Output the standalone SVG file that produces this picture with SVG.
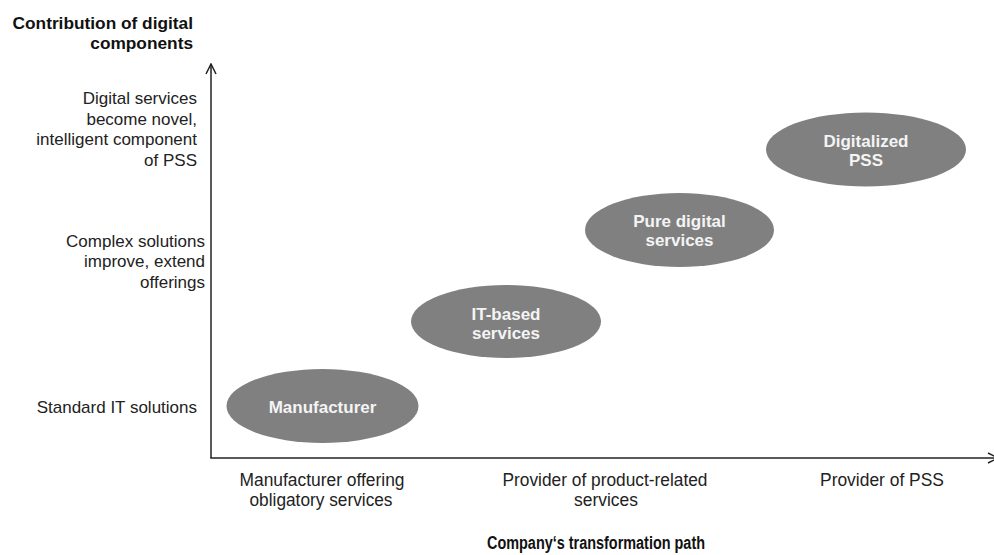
<svg xmlns="http://www.w3.org/2000/svg" width="994" height="555" viewBox="0 0 994 555">
  <style>
    .bg { fill: #ffffff; }
    .axis { stroke: #222222; stroke-width: 1.5; fill: none; }
    .blob { fill: #808080; }
    .node-label { font-family: "Liberation Sans", Arial, sans-serif; font-size: 17px; font-weight: bold; fill: #f4f4f4; text-anchor: middle; }
    .axis-title { font-family: "Liberation Sans", Arial, sans-serif; font-size: 17.3px; font-weight: bold; fill: #111111; }
    .path-title { font-family: "Liberation Sans", Arial, sans-serif; font-size: 17.5px; font-weight: bold; fill: #111111; text-anchor: middle; }
    .level { font-family: "Liberation Sans", Arial, sans-serif; font-size: 17px; fill: #222222; text-anchor: end; }
    .stage { font-family: "Liberation Sans", Arial, sans-serif; font-size: 17.5px; fill: #222222; text-anchor: middle; }
  </style>
  <defs>
    <marker id="open-arrow" viewBox="0 0 12 12" refX="11" refY="6" markerWidth="12" markerHeight="12" markerUnits="userSpaceOnUse" orient="auto">
      <path d="M1,1 L11,6 L1,11" fill="none" stroke="#222222" stroke-width="1.5"/>
    </marker>
  </defs>

  <rect class="bg" x="0" y="0" width="994" height="555"/>

  <!-- axes -->
  <g id="connectors">
    <line class="axis" x1="211" y1="458" x2="211" y2="64" marker-end="url(#open-arrow)"/>
    <line class="axis" x1="210.25" y1="458" x2="998" y2="458" marker-end="url(#open-arrow)"/>
  </g>

  <!-- vertical axis title and levels -->
  <g id="y-axis-labels">
    <text class="axis-title" text-anchor="end" x="193" y="29">Contribution of digital</text>
    <text class="axis-title" text-anchor="end" x="193" y="49">components</text>

    <text class="level" x="197" y="104">Digital services</text>
    <text class="level" x="197" y="125">become novel,</text>
    <text class="level" x="197" y="145">intelligent component</text>
    <text class="level" x="197" y="166">of PSS</text>

    <text class="level" x="205" y="247">Complex solutions</text>
    <text class="level" x="205" y="267">improve, extend</text>
    <text class="level" x="205" y="288">offerings</text>

    <text class="level" x="197" y="413">Standard IT solutions</text>
  </g>

  <!-- horizontal axis stages and title -->
  <g id="x-axis-labels">
    <text class="stage" x="322" y="486" textLength="165" lengthAdjust="spacingAndGlyphs">Manufacturer offering</text>
    <text class="stage" x="321" y="506" textLength="143" lengthAdjust="spacingAndGlyphs">obligatory services</text>
    <text class="stage" x="605" y="486" textLength="205" lengthAdjust="spacingAndGlyphs">Provider of product-related</text>
    <text class="stage" x="606" y="506" textLength="64" lengthAdjust="spacingAndGlyphs">services</text>
    <text class="stage" x="882" y="486" textLength="124" lengthAdjust="spacingAndGlyphs">Provider of PSS</text>
    <text class="path-title" x="596" y="549" textLength="218" lengthAdjust="spacingAndGlyphs">Company‘s transformation path</text>
  </g>

  <!-- stages of the transformation -->
  <g id="manufacturer">
    <ellipse class="blob" cx="322.5" cy="406" rx="96" ry="37"/>
    <text class="node-label" x="322.5" y="413">Manufacturer</text>
  </g>
  <g id="it-based-services">
    <ellipse class="blob" cx="506" cy="321.5" rx="95" ry="36.5"/>
    <text class="node-label" x="506" y="320">IT-based</text>
    <text class="node-label" x="506" y="339">services</text>
  </g>
  <g id="pure-digital-services">
    <ellipse class="blob" cx="679.5" cy="230" rx="94.5" ry="37"/>
    <text class="node-label" x="679.5" y="227">Pure digital</text>
    <text class="node-label" x="679.5" y="246">services</text>
  </g>
  <g id="digitalized-pss">
    <ellipse class="blob" cx="866" cy="149.5" rx="100" ry="37"/>
    <text class="node-label" x="866" y="147">Digitalized</text>
    <text class="node-label" x="866" y="166">PSS</text>
  </g>
</svg>
